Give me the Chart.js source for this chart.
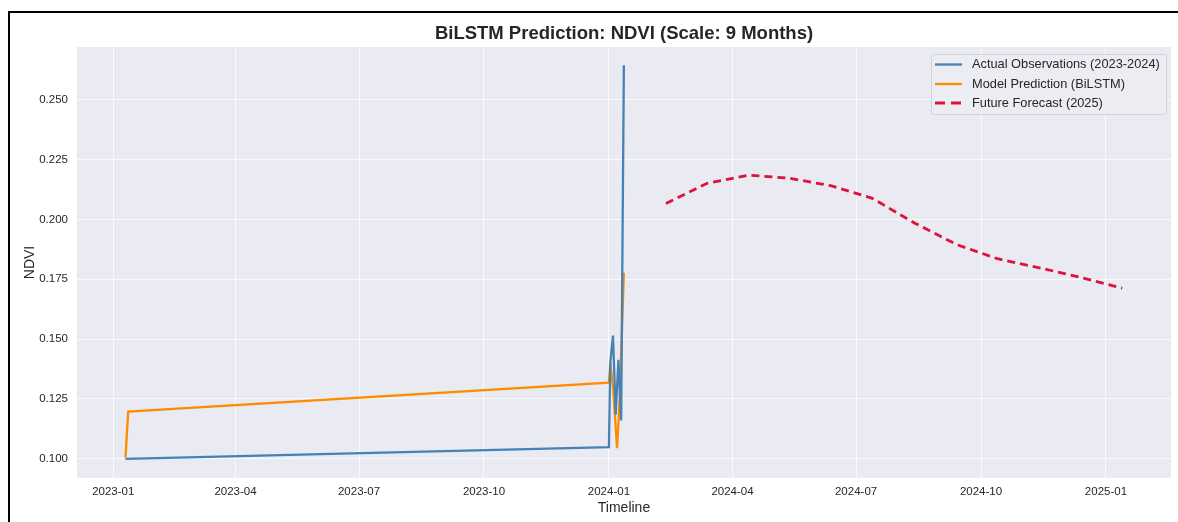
<!DOCTYPE html>
<html><head><meta charset="utf-8">
<script src="https://cdn.jsdelivr.net/npm/chart.js@4.4.1/dist/chart.umd.min.js"></script>
<style>
html,body{margin:0;padding:0;background:#fff;width:1178px;height:522px;overflow:hidden;}
#frame{position:absolute;left:8px;top:11px;width:1200px;height:540px;border:2px solid #000;box-sizing:border-box;}
#wrap{position:absolute;left:0;top:0;width:1178px;height:522px;}
</style></head><body>
<div id="frame"></div>
<div id="wrap"><canvas id="c" width="1178" height="522"></canvas></div>
<script>
// ---- data ----
const chartTitle = 'BiLSTM Prediction: NDVI (Scale: 9 Months)';
const xTitle = 'Timeline';
const yTitle = 'NDVI';
const seriesNames = ['Actual Observations (2023-2024)', 'Model Prediction (BiLSTM)', 'Future Forecast (2025)'];

const actualDates  = ['2023-01-10','2024-01-01','2024-01-02','2024-01-04','2024-01-06','2024-01-08','2024-01-10','2024-01-12'];
const actualValues = [0.1000, 0.1049, 0.1400, 0.1515, 0.1184, 0.1414, 0.1160, 0.2644];

const predDates  = ['2023-01-10','2023-01-12','2024-01-01','2024-01-02','2024-01-04','2024-01-07','2024-01-09','2024-01-12'];
const predValues = [0.1005, 0.1197, 0.1318, 0.1400, 0.1300, 0.1045, 0.1260, 0.1777];

const forecastDates  = ['2024-02-12','2024-03-13','2024-04-13','2024-05-13','2024-06-13','2024-07-13','2024-08-13','2024-09-13','2024-10-13','2024-11-13','2024-12-13','2025-01-13'];
const forecastValues = [0.2066, 0.2150, 0.2185, 0.2172, 0.2140, 0.2088, 0.1985, 0.1895, 0.1836, 0.1798, 0.1758, 0.1713];

const xTickDates  = ['2023-01-01','2023-04-01','2023-07-01','2023-10-01','2024-01-01','2024-04-01','2024-07-01','2024-10-01','2025-01-01'];
const xTickLabels = ['2023-01','2023-04','2023-07','2023-10','2024-01','2024-04','2024-07','2024-10','2025-01'];
const yTickValues = [0.100, 0.125, 0.150, 0.175, 0.200, 0.225, 0.250];

// ---- helpers ----
const BASE = Date.parse('2023-01-01T00:00:00Z');
const toDay = s => (Date.parse(s + 'T00:00:00Z') - BASE) / 86400000;
const pts = (d, v) => d.map((s, i) => ({x: toDay(s), y: v[i]}));

const FONT = "'Liberation Sans', Arial, sans-serif";
const TXT = '#262626';
const colors = ['#4682B4', '#FF8C00', '#DC143C'];
const GRID = 'rgba(255,255,255,0.75)';

const bgPlugin = {
  id: 'bg',
  beforeDraw(chart) {
    const {ctx, chartArea: a} = chart;
    ctx.save();
    ctx.fillStyle = '#EAEAF2';
    ctx.fillRect(a.left, a.top, a.right - a.left, a.bottom - a.top);
    ctx.restore();
  },
  afterDraw(chart) {
    const {ctx, chartArea: a} = chart;
    ctx.save();
    // title
    ctx.fillStyle = TXT;
    ctx.font = "bold 18.5px " + FONT;
    ctx.textAlign = 'center';
    ctx.textBaseline = 'middle';
    ctx.fillText(chartTitle, (a.left + a.right) / 2, 34);
    // legend
    const L = 931, T = 54, W = 235, H = 60;
    ctx.beginPath();
    if (ctx.roundRect) ctx.roundRect(L + 0.5, T + 0.5, W, H, 3); else ctx.rect(L + 0.5, T + 0.5, W, H);
    ctx.fillStyle = 'rgba(236,236,243,0.85)';
    ctx.fill();
    ctx.strokeStyle = '#d2d2d8';
    ctx.lineWidth = 1;
    ctx.stroke();
    const rows = [64.5, 84, 103];
    chart.data.datasets.forEach((ds, i) => {
      const y = rows[i];
      ctx.beginPath();
      ctx.strokeStyle = ds.borderColor;
      ctx.lineWidth = ds.borderWidth;
      ctx.setLineDash(ds.borderDash ? [10, 6] : []);
      ctx.moveTo(935, y);
      ctx.lineTo(962, y);
      ctx.stroke();
      ctx.setLineDash([]);
      ctx.fillStyle = TXT;
      ctx.font = "12.8px " + FONT;
      ctx.textAlign = 'left';
      ctx.textBaseline = 'middle';
      ctx.fillText(ds.label, 972, y);
    });
    ctx.restore();
  }
};

new Chart(document.getElementById('c'), {
  type: 'line',
  data: {
    datasets: [
      {label: seriesNames[0], data: pts(actualDates, actualValues), borderColor: colors[0], borderWidth: 2.3, pointRadius: 0, tension: 0},
      {label: seriesNames[1], data: pts(predDates, predValues), borderColor: colors[1], borderWidth: 2.3, pointRadius: 0, tension: 0},
      {label: seriesNames[2], data: pts(forecastDates, forecastValues), borderColor: colors[2], borderWidth: 2.8, borderDash: [8, 5], pointRadius: 0, tension: 0}
    ]
  },
  options: {
    responsive: false,
    animation: false,
    layout: {padding: {left: 10, right: 7, top: 47, bottom: 0}},
    plugins: {legend: {display: false}, title: {display: false}, tooltip: {enabled: false}},
    scales: {
      x: {
        type: 'linear',
        min: -26.7, max: 778.9,
        afterBuildTicks: s => { s.ticks = xTickDates.map(d => ({value: toDay(d)})); },
        afterFit: s => { s.height = 44; },
        ticks: {
          autoSkip: false, maxRotation: 0, padding: 7, color: TXT,
          font: {family: FONT, size: 11.5},
          callback: (v, i) => xTickLabels[i]
        },
        grid: {color: GRID, lineWidth: 1, drawTicks: false},
        border: {display: false},
        title: {display: true, text: xTitle, color: TXT, font: {family: FONT, size: 14}, padding: {top: 0, bottom: 5.6}}
      },
      y: {
        type: 'linear',
        min: 0.092, max: 0.272,
        afterBuildTicks: s => { s.ticks = yTickValues.map(v => ({value: v})); },
        afterFit: s => { s.width = 67; },
        ticks: {
          padding: 9, color: TXT,
          font: {family: FONT, size: 11.5},
          callback: v => Number(v).toFixed(3)
        },
        grid: {color: GRID, lineWidth: 1, drawTicks: false},
        border: {display: false},
        title: {display: true, text: yTitle, color: TXT, font: {family: FONT, size: 14}, padding: {top: 11.6, bottom: 0}}
      }
    }
  },
  plugins: [bgPlugin]
});
</script>
</body></html>
